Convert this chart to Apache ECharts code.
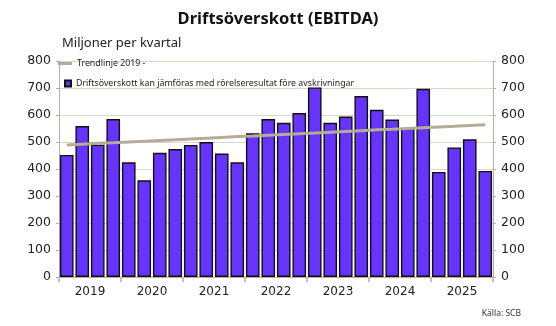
<!DOCTYPE html>
<html><head><meta charset="utf-8">
<script src="https://cdn.jsdelivr.net/npm/echarts@6/dist/echarts.min.js"></script>
<style>html,body{margin:0;padding:0;background:#fff}#c{width:556px;height:326px}</style>
</head><body><div id="c"></div>
<script>
const years = ['2019','2020','2021','2022','2023','2024','2025'];
const quarters = ['2019K1','2019K2','2019K3','2019K4','2020K1','2020K2','2020K3','2020K4','2021K1','2021K2','2021K3','2021K4','2022K1','2022K2','2022K3','2022K4','2023K1','2023K2','2023K3','2023K4','2024K1','2024K2','2024K3','2024K4','2025K1','2025K2','2025K3','2025K4'];
const ebitda = [452,559,490,585,425,358,460,474,489,500,457,425,532,585,571,607,702,571,594,670,619,583,550,697,389,480,510,393];
const trend = [489,492,495,497,500,503,506,508,511,514,517,520,522,525,528,531,533,536,539,542,545,547,550,553,556,558,561,564];
const yTicks = [0,100,200,300,400,500,600,700,800];

const FONT = 'Noto Sans';
const NUMFONT = 'DejaVu Sans';
const axisCol = '#b9ae9c';
const gridCol = '#dcd5c8';
const chart = echarts.init(document.getElementById('c'), null, {renderer:'canvas'});
const yAxisBase = (pos) => ({
  type:'value', position:pos, min:yTicks[0], max:yTicks[yTicks.length-1], interval:100,
  axisLine:{show:true, lineStyle:{color:axisCol, width:1}},
  axisTick:{show:true, length:3, lineStyle:{color:axisCol}},
  axisLabel:{color:'#222', fontFamily:NUMFONT, fontSize:12.5, margin:8},
  splitLine:{show:pos==='left', lineStyle:{color:gridCol, width:1}}
});
chart.setOption({
  animation:false,
  title:[
    {text:'Driftsöverskott (EBITDA)', left:'center', top:6, textStyle:{fontFamily:FONT, fontWeight:'bold', fontSize:16.5, color:'#111'}},
    {text:'Miljoner per kvartal', left:57, top:32, textStyle:{fontFamily:FONT, fontWeight:'normal', fontSize:13, color:'#222'}},
    {text:'Källa: SCB', right:30, top:304, textStyle:{fontFamily:FONT, fontWeight:'normal', fontSize:8.5, color:'#333'}}
  ],
  legend:[
    {data:[{name:'Trendlinje 2019 -', icon:'rect'}], left:58, top:59, padding:0, itemWidth:14, itemHeight:3,
     textStyle:{fontFamily:FONT, fontSize:8.8, color:'#222'}},
    {data:[{name:'Driftsöverskott kan jämföras med rörelseresultat före avskrivningar', icon:'rect'}], left:64, top:79, padding:0, itemWidth:6, itemHeight:6,
     textStyle:{fontFamily:FONT, fontSize:8.8, color:'#222'}}
  ],
  grid:{left:59, right:63, top:61, bottom:49, containLabel:false},
  xAxis:[
    {type:'category', data:quarters, axisLine:{show:false}, axisTick:{show:false}, axisLabel:{show:false}},
    {type:'category', data:years, position:'bottom', boundaryGap:true,
     axisLine:{show:true, lineStyle:{color:axisCol, width:1}},
     axisTick:{show:true, alignWithLabel:false, length:5, lineStyle:{color:axisCol, width:1.5}},
     axisLabel:{color:'#222', fontFamily:NUMFONT, fontSize:12, margin:9}}
  ],
  yAxis:[yAxisBase('left'), yAxisBase('right')],
  series:[
    {name:'Driftsöverskott kan jämföras med rörelseresultat före avskrivningar', type:'bar', xAxisIndex:0, yAxisIndex:0, data:ebitda,
     barCategoryGap:'12%', itemStyle:{color:'#6633ff', borderColor:'#111', borderWidth:1.4}, z:2},
    {name:'Trendlinje 2019 -', type:'line', xAxisIndex:0, yAxisIndex:0, data:trend, symbol:'none',
     lineStyle:{color:'#b5ab99', width:3}, itemStyle:{color:'#b5ab99'}, z:3}
  ]
});
</script></body></html>
